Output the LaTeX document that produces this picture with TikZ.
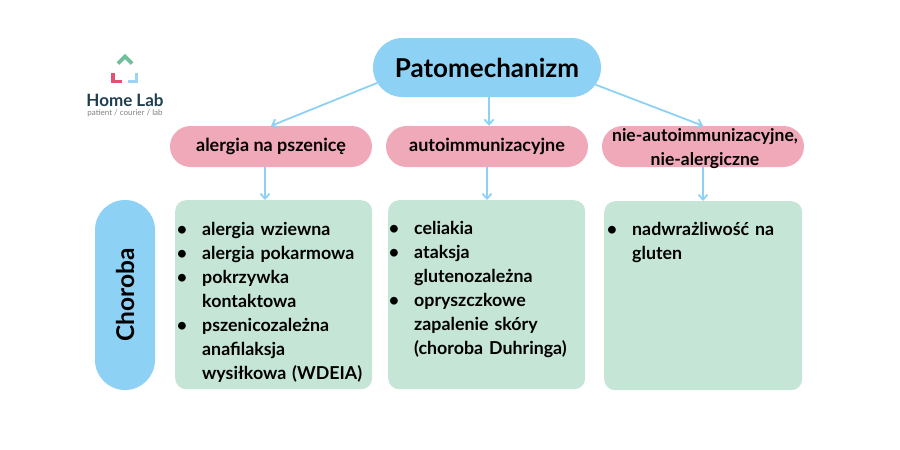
\documentclass[tikz,border=0pt]{standalone}
\usepackage{fontspec}
\setmainfont{Lato}
\usetikzlibrary{shapes.misc}
\usetikzlibrary{arrows.meta}
\definecolor{skyblue}{HTML}{8DD1F5}
\definecolor{rosepink}{HTML}{EFA9B9}
\definecolor{palegreen}{HTML}{C5E5D6}
\definecolor{logogreen}{HTML}{6FBF9B}
\definecolor{logored}{HTML}{E0526F}
\definecolor{logoblue}{HTML}{9AD4F5}
\definecolor{logotext}{HTML}{1F3F50}
\tikzset{
  pill/.style={rounded rectangle, fill=#1, inner sep=0pt, align=center},
  mechanism/.style={pill=rosepink, minimum width=202pt, minimum height=41pt, font=\fontsize{18}{24}\selectfont\bfseries},
  diseasebox/.style={fill=palegreen, rounded corners=11pt, inner sep=0pt, anchor=north west},
  diseasetext/.style={anchor=north west, inner sep=0pt, text width=#1, font=\fontsize{17.8}{24}\selectfont\bfseries},
  link/.style={-{Straight Barb[length=5pt,width=9pt]}, skyblue, line width=1.8pt},
}
\newenvironment{diseaselist}{\begin{list}{\textbullet}{\setlength{\leftmargin}{27pt}\setlength{\labelwidth}{20pt}\setlength{\labelsep}{15pt}\setlength{\itemsep}{0pt}\setlength{\parsep}{0pt}\setlength{\topsep}{0pt}\setlength{\partopsep}{0pt}}\raggedright}{\end{list}}
\begin{document}
\begin{tikzpicture}[x=1pt,y=-1pt]
  \useasboundingbox (0,0) rectangle (900,450);

  % Top level
  \node[pill=skyblue, minimum width=228pt, minimum height=59pt, font=\fontsize{26}{30}\selectfont\bfseries] (pat) at (487,67.5) {Patomechanizm};

  % Mechanisms
  \node[mechanism] (wheat) at (271,146.5) {alergia na pszenicę};
  \node[mechanism] (auto) at (487,146.5) {autoimmunizacyjne};
  \node[mechanism] (nonauto) at (703,146.5) {};
  \node[inner sep=0pt, align=center, font=\fontsize{17.5}{24}\selectfont\bfseries] (nonautotext) at (705,149) {nie-autoimmunizacyjne,\\nie-alergiczne};

  % Side label
  \node[pill=skyblue, rotate=90, minimum width=190pt, minimum height=60pt, font=\fontsize{24.5}{28}\selectfont\bfseries] (dis) at (125,295) {Choroba};

  % Disease boxes
  \node[diseasebox, minimum width=197pt, minimum height=189pt] (box1) at (175,200) {};
  \node[diseasebox, minimum width=197pt, minimum height=189pt] (box2) at (388,200) {};
  \node[diseasebox, minimum width=198pt, minimum height=189pt] (box3) at (604,201) {};

  \node[diseasetext=195pt] (list1) at (175,211) {\begin{diseaselist}
    \item alergia wziewna
    \item alergia pokarmowa
    \item pokrzywka kontaktowa
    \item pszenicozależna anafilaksja wysiłkowa (WDEIA)
  \end{diseaselist}};
  \node[diseasetext=195pt] (list2) at (387,210) {\begin{diseaselist}
    \item celiakia
    \item ataksja glutenozależna
    \item opryszczkowe zapalenie skóry (choroba Duhringa)
  \end{diseaselist}};
  \node[diseasetext=195pt] (list3) at (605,211) {\begin{diseaselist}
    \item nadwrażliwość na gluten
  \end{diseaselist}};

  % Arrows
  \draw[link] (pat.188) -- (wheat.north);
  \draw[link] ([xshift=2pt]pat.south) -- ([xshift=2pt]auto.north);
  \draw[link] (pat.-9) -- (nonauto.north);
  \draw[link] ([xshift=-6pt]wheat.south) -- ([xshift=-6pt]wheat.south |- box1.north);
  \draw[link] (auto.south) -- (auto.south |- box2.north);
  \draw[link] (nonauto.south) -- (nonauto.south |- box3.north);

  % Logo
  \draw[logogreen, line width=3.6pt] (118,63.5) -- (125,56.5) -- (132,63.5);
  \draw[logored, line width=3.6pt] (113.1,73.3) -- (113.1,81.5) -- (121.7,81.5);
  \draw[logoblue, line width=3.6pt] (128.3,81.5) -- (136.5,81.5) -- (136.5,73.3);
  \node[font=\fontsize{17}{20}\selectfont\bfseries, text=logotext, inner sep=0pt] (brand) at (125,100) {Home Lab};
  \node[font=\fontsize{8}{9}\selectfont, text=gray, inner sep=0pt] (tag) at (125,113.5) {patient / courier / lab};
\end{tikzpicture}
\end{document}
